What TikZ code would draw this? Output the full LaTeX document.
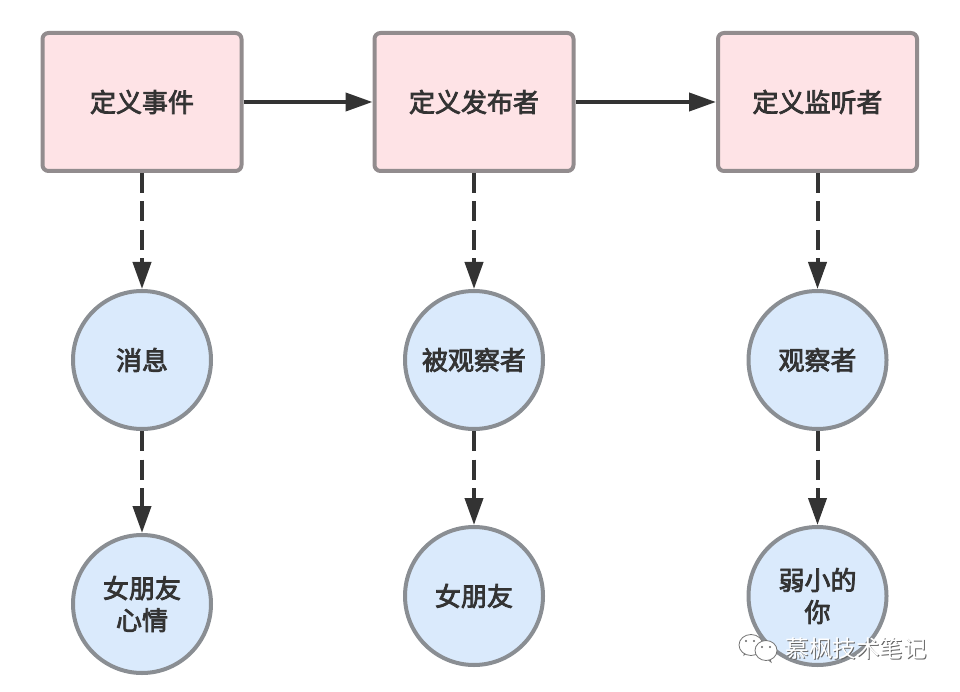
\documentclass[tikz,border=0pt]{standalone}
\usepackage{fontspec}
\setmainfont{Noto Sans CJK SC}
\newfontfamily\labelfont{Noto Sans CJK SC}[FakeBold=3]
\usetikzlibrary{arrows.meta, positioning}
\definecolor{linedark}{HTML}{333333}
\definecolor{boxfill}{HTML}{FEE3E6}
\definecolor{boxline}{HTML}{928C8E}
\definecolor{circfill}{HTML}{DAEAFC}
\definecolor{circline}{HTML}{8A8E93}

\begin{document}
\begin{tikzpicture}[
  x=1pt, y=-1pt,
  >={Triangle[length=27pt, width=18pt]},
  stepbox/.style={draw=boxline, line width=4pt, fill=boxfill, rectangle, rounded corners=6pt, minimum width=199pt, minimum height=138pt, inner sep=0pt, font=\fontsize{26}{32}\selectfont\labelfont, text=linedark, align=center},
  rolenode/.style={draw=circline, line width=4pt, fill=circfill, circle, minimum size=138pt, inner sep=0pt, font=\fontsize{26}{32}\selectfont\labelfont, text=linedark, align=center},
  flow/.style={->, line width=4pt, linedark},
  flowd/.style={->, line width=4pt, linedark, dash pattern=on 20pt off 8.5pt},
  bubble/.style={draw=black!55, fill=white, line width=0.8pt}
]
\useasboundingbox (0,0) rectangle (960,692);

% Top row
\node[stepbox]  (defEvent)     at (142,102) {定义事件};
\node[stepbox]  (defPublisher) [right=129pt of defEvent] {定义发布者};
\node[stepbox]  (defListener)  [right=140.5pt of defPublisher] {定义监听者};

% Middle row
\node[rolenode] (message)  [below=116pt of defEvent] {消息};
\node[rolenode] (observed) [below=116pt of defPublisher] {被观察者};
\node[rolenode] (observer) [below=116pt of defListener] {观察者};

% Bottom row
\node[rolenode] (mood)       [below=102pt of message] {女朋友\\心情};
\node[rolenode] (girlfriend) [below=94pt of observed] {女朋友};
\node[rolenode] (you)        [below=94pt of observer] {弱小的\\你};

% Flows
\draw[flow] (defEvent) -- (defPublisher);
\draw[flow] (defPublisher) -- (defListener);

\draw[flowd] (defEvent) -- (message);
\draw[flowd] (defPublisher) -- (observed);
\draw[flowd] (defListener) -- (observer);

\draw[flowd] (message) -- (mood);
\draw[flowd] (observed) -- (girlfriend);
\draw[flowd] (observer) -- (you);

% Watermark
\draw[bubble] (744,655) -- (745,650) -- (748,651) -- cycle;
\draw[bubble] (751,645) ellipse [x radius=12pt, y radius=10.5pt];
\draw[bubble] (771,662) -- (769,656) -- (766,658) -- cycle;
\draw[bubble] (766,650.5) ellipse [x radius=11pt, y radius=10pt];
\fill[black!60] (746,641) circle [radius=1.2pt] (754,641) circle [radius=1.2pt] (762,647) circle [radius=1.2pt] (770,647) circle [radius=1.2pt];
\node[font=\fontsize{23.5}{28}\selectfont, text=black!60, inner sep=0pt] (markShadow) at (857,649.5) {慕枫技术笔记};
\node[font=\fontsize{23.5}{28}\selectfont, text=white, inner sep=0pt] (markText) at (856,648.5) {慕枫技术笔记};
\end{tikzpicture}
\end{document}
